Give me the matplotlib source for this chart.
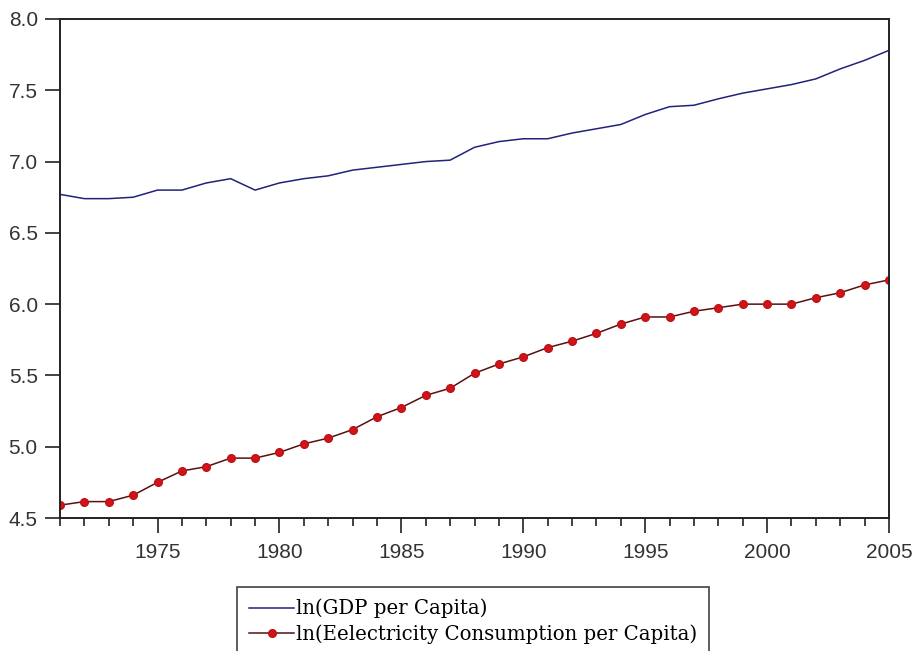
import numpy as np
import matplotlib.pyplot as plt
from matplotlib.ticker import MultipleLocator

plt.rcParams["font.family"] = ["Liberation Sans", "DejaVu Sans"]

years = list(range(1971, 2006))

# ln of GDP per capita
ln_gdp = [6.77, 6.74, 6.74, 6.75, 6.80, 6.80, 6.85, 6.88, 6.80, 6.85,
          6.88, 6.90, 6.94, 6.96, 6.98, 7.00, 7.01, 7.10, 7.14, 7.16,
          7.16, 7.20, 7.23, 7.26, 7.33, 7.385, 7.395, 7.44, 7.48, 7.51,
          7.54, 7.58, 7.65, 7.71, 7.78]

# ln of electricity consumption per capita
ln_elec = [4.59, 4.615, 4.615, 4.66, 4.75, 4.83, 4.86, 4.92, 4.92, 4.96,
           5.02, 5.06, 5.12, 5.21, 5.275, 5.36, 5.41, 5.515, 5.58, 5.63,
           5.695, 5.74, 5.795, 5.86, 5.91, 5.91, 5.95, 5.975, 6.00, 6.00,
           6.00, 6.045, 6.08, 6.135, 6.17]

yticks = [4.5, 5.0, 5.5, 6.0, 6.5, 7.0, 7.5, 8.0]
xticks = [1975, 1980, 1985, 1990, 1995, 2000, 2005]

fig = plt.figure(figsize=(9.17, 6.51), dpi=100)
ax = fig.add_axes([60 / 917, 1 - 518 / 651, (889 - 60) / 917, (518 - 19) / 651])

ax.plot(years, ln_gdp, color="#22227a", lw=1.1, label="ln(GDP per Capita)")
ax.plot(years, ln_elec, color="#5a1010", lw=1.1, marker="o", markersize=5.5,
        markerfacecolor="#d01418", markeredgecolor="#c01014",
        label="ln(Eelectricity Consumption per Capita)")

ax.set_xlim(1971, 2005)
ax.set_ylim(4.5, 8.0)
ax.set_xticks(xticks)
ax.xaxis.set_minor_locator(MultipleLocator(1))
ax.set_yticks(yticks)
ax.set_yticklabels([f"{v:.1f}" for v in yticks])

for s in ax.spines.values():
    s.set_linewidth(1.4)
    s.set_color("#222222")

ax.tick_params(axis="both", which="major", direction="out", length=11, width=1.2,
               colors="#222222", labelsize=15, labelcolor="#333333")
ax.tick_params(axis="x", which="minor", direction="out", length=6, width=1.2, colors="#222222")
ax.tick_params(axis="y", pad=5)
ax.tick_params(axis="x", pad=7)

leg = fig.legend(loc="upper left", bbox_to_anchor=(237 / 917, 1 - 587 / 651),
                 prop={"family": "DejaVu Serif", "size": 14.2},
                 frameon=True, fancybox=False, borderpad=0.6, handlelength=2.3,
                 handletextpad=0.1, labelspacing=0.3, borderaxespad=0)
leg.get_frame().set_edgecolor("#111111")
leg.get_frame().set_linewidth(1.2)

fig.savefig("out.png", dpi=100)
